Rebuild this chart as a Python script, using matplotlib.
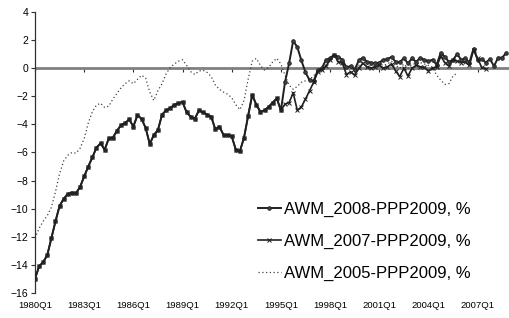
import numpy as np
import matplotlib.pyplot as plt

plt.rcParams['font.family'] = ['Liberation Sans', 'DejaVu Sans']

# quarterly data from 1980Q1
awm_2008 = [-15.0, -14.1, -13.8, -13.3, -12.1, -10.9, -9.8, -9.3, -8.95, -8.85,
            -8.9, -8.45, -7.7, -7.0, -6.35, -5.65, -5.35, -5.8, -5.0, -4.95,
            -4.45, -4.05, -3.9, -3.65, -4.15, -3.35, -3.6, -4.25, -5.4, -4.75,
            -4.4, -3.3, -3.0, -2.85, -2.6, -2.5, -2.4, -3.15, -3.45, -3.6,
            -3.0, -3.15, -3.3, -3.45, -4.35, -4.15, -4.75, -4.75, -4.85, -5.8,
            -5.9, -4.95, -3.4, -1.9, -2.6, -3.1, -3.0, -2.75, -2.45, -2.15,
            -3.0, -1.0, 0.35, 1.95, 1.5, 0.55, -0.3, -0.85, -0.9, -0.15,
            0.0, 0.6, 0.7, 0.97, 0.8, 0.6, 0.05, 0.15, -0.1, 0.55,
            0.75, 0.45, 0.4, 0.35, 0.4, 0.6, 0.65, 0.8, 0.45, 0.45,
            0.7, 0.35, 0.7, 0.45, 0.75, 0.6, 0.5, 0.6, 0.25, 1.1,
            0.8, 0.45, 0.6, 1.0, 0.6, 0.7, 0.4, 1.4, 0.6, 0.65,
            0.4, 0.65, 0.15, 0.75, 0.75, 1.1]

awm_2007 = awm_2008[:61] + [
    -2.55, -2.45, -1.75, -3.0, -2.75, -2.2, -1.6, -1.0, -0.25,
    -0.1, 0.15, 0.6, 0.95, 0.45, 0.35, -0.45, -0.25, -0.5, 0.0,
    0.35, 0.1, 0.0, 0.1, 0.2, 0.0, 0.1, 0.3, -0.2, -0.6,
    0.0, -0.55, 0.0, 0.2, 0.1, 0.05, -0.2, 0.0, 0.1, 0.85,
    0.4, 0.15, 0.6, 0.5, 0.4, 0.45, 0.2, 1.3, 0.7, 0.05, -0.05]

awm_2005 = [-12.1, -11.4, -10.9, -10.5, -9.9, -8.8, -7.5, -6.6, -6.2, -6.0,
            -6.05, -5.7, -5.0, -3.9, -3.1, -2.62, -2.5, -2.8, -2.7, -2.2,
            -1.8, -1.4, -1.1, -0.9, -1.1, -0.8, -0.5, -0.7, -1.7, -2.3,
            -1.6, -1.1, -0.4, 0.05, 0.3, 0.5, 0.6, 0.2, -0.25, -0.45,
            -0.2, -0.15, -0.3, -0.6, -1.2, -1.5, -1.7, -1.85, -2.1, -2.6,
            -2.95, -2.3, -0.8, 0.5, 0.7, 0.2, -0.13, 0.05, 0.45, 0.7,
            0.3, -0.5, -1.2, -1.5, -1.3, -1.0, -0.9, -0.8, -0.55, -0.2,
            0.0, 0.2, 0.6, 0.9, 0.5, 0.4, 0.0, 0.1, -0.2, 0.2,
            0.5, 0.3, 0.2, 0.2, 0.3, 0.2, 0.3, 0.5, 0.2, 0.0,
            0.3, 0.0, 0.3, 0.3, 0.4, 0.3, 0.2, 0.05, -0.5, -0.85,
            -1.15, -1.1, -0.55, -0.35]

tick_labels = ['1980Q1', '1983Q1', '1986Q1', '1989Q1', '1992Q1',
               '1995Q1', '1998Q1', '2001Q1', '2004Q1', '2007Q1']

fig = plt.figure(figsize=(5.1, 3.18), dpi=100)
ax = fig.add_axes([0.0686, 0.0786, 0.929, 0.8837])

ax.axhline(0, color='#808080', lw=2, zorder=1)

ax.plot(np.arange(len(awm_2008)), awm_2008, color='#202020', lw=1.4,
        marker='o', ms=2.6, mfc='#404040', mec='#202020', mew=0.6,
        label='AWM_2008-PPP2009, %', zorder=3)
ax.plot(np.arange(len(awm_2007)), awm_2007, color='#202020', lw=1.2,
        marker='x', ms=3, mew=0.7, label='AWM_2007-PPP2009, %', zorder=3)
ax.plot(np.arange(len(awm_2005)), awm_2005, color='#404040', lw=0.9,
        ls=(0, (1, 2)), label='AWM_2005-PPP2009, %', zorder=2)

ax.set_xlim(0, 115.6)
ax.set_ylim(-16, 4)
ax.set_yticks(np.arange(-16, 5, 2))
ax.tick_params(axis='y', labelsize=7.5, length=3, width=0.8, color='#303030', pad=2)

ticks = np.arange(0, 12 * len(tick_labels), 12)
ax.set_xticks(ticks)
ax.set_xticklabels(tick_labels)
ax.tick_params(axis='x', labelsize=6.8, length=0, pad=6)

# tick marks sitting on the zero line
sec = ax.secondary_xaxis(0, transform=ax.transData)
sec.set_xticks(ticks)
sec.set_xticklabels([])
sec.tick_params(axis='x', length=3, width=0.8, color='#303030', direction='out')
sec.spines['bottom'].set_visible(False)

for s in ['top', 'right', 'bottom']:
    ax.spines[s].set_visible(False)
ax.spines['left'].set_color('#303030')
ax.spines['left'].set_linewidth(0.9)

ax.legend(loc='upper left', bbox_to_anchor=(0.505, 0.365), bbox_transform=fig.transFigure,
          frameon=False, fontsize=12, handlelength=1.4, handletextpad=0.2,
          labelspacing=1.0, numpoints=1, borderaxespad=0, borderpad=0)

fig.savefig('out.png', dpi=100)
